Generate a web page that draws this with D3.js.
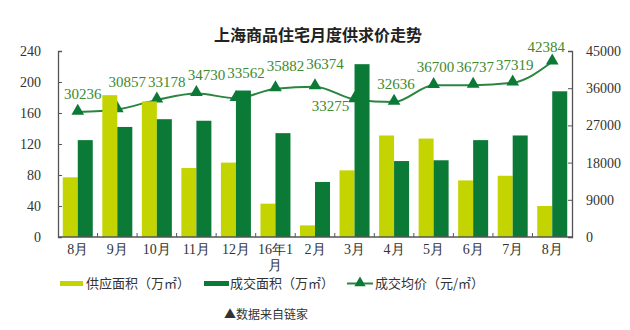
<!DOCTYPE html>
<html><head><meta charset="utf-8">
<script src="https://cdn.jsdelivr.net/npm/d3@7"></script>
<style>body{margin:0;background:#fff}svg{display:block}</style>
</head><body><svg id="c" width="630" height="330"></svg>
<script>
const categories = ["8月","9月","10月","11月","12月","16年1月","2月","3月","4月","5月","6月","7月","8月"];
const supply = [77,183,175,89,96,43,15,86,131,127,73,79,40];
const deal = [125,142,152,150,189,134,71,223,98,99,125,131,188];
const price = [30236,30857,33178,34730,33562,35882,36374,33275,32636,36700,36737,37319,42384];
const leftTicks = [0,40,80,120,160,200,240];
const rightTicks = [0,9000,18000,27000,36000,45000];
const title = "上海商品住宅月度供求价走势";
const legendNames = ["供应面积（万㎡）","成交面积（万㎡）","成交均价（元/㎡）"];
const source = "▲数据来自链家";

const C_LIGHT = "#c3d400", C_DARK = "#0b7a37", C_LINE = "#2a8540", C_TXT = "#3d8a2f";
const svg = d3.select("#c");
const L = 58, R = 572, T = 51, B = 237;
const cjk = "'Noto Sans CJK SC','Noto Sans',sans-serif";
const serif = "'Liberation Serif', 'DejaVu Serif', serif";

const x = d3.scaleBand().domain(d3.range(categories.length)).range([L, R]).paddingInner(0).paddingOuter(0);
const yL = d3.scaleLinear().domain([0,240]).range([B,T]);
const yR = d3.scaleLinear().domain([0,45000]).range([B,T]);
const bw = 15;

svg.append("text").attr("x",318).attr("y",41).attr("text-anchor","middle")
  .style("font-family",cjk).attr("font-weight","bold").attr("font-size",16).attr("fill","#222").text(title);

const line = d3.line().x((d,i)=>x(i)+x.bandwidth()/2).y(d=>yR(d)).curve(d3.curveMonotoneX);
svg.append("path").datum(price).attr("d",line).attr("fill","none").attr("stroke",C_LINE).attr("stroke-width",2);
const tri = d3.symbol().type(d3.symbolTriangle).size(70);
svg.selectAll(".tri").data(price).join("path")
  .attr("transform",(d,i)=>`translate(${x(i)+x.bandwidth()/2},${yR(d)-1})`)
  .attr("d",tri).attr("fill",C_DARK);

const g = svg.append("g");
g.selectAll(".s").data(supply).join("rect")
  .attr("x",(d,i)=>x(i)+x.bandwidth()/2-bw).attr("width",bw)
  .attr("y",d=>yL(d)).attr("height",d=>B-yL(d)).attr("fill",C_LIGHT);
g.selectAll(".d").data(deal).join("rect")
  .attr("x",(d,i)=>x(i)+x.bandwidth()/2).attr("width",bw)
  .attr("y",d=>yL(d)).attr("height",d=>B-yL(d)).attr("fill",C_DARK);

svg.selectAll(".pl").data(price).join("text")
  .style("font-family",serif)
  .attr("x",(d,i)=>{const cx=x(i)+x.bandwidth()/2; if(i===7) return cx-24; if(i===12) return cx-6; if(i>=8) return cx+2; return cx+ (i===0?5:10);})
  .attr("y",(d,i)=>{const cy=yR(d); if(i===7) return cy+12; if(i===12) return cy-10; return cy-13 - (i===1?9:(i===4?7:(i===5||i===6?5:0)));})
  .attr("text-anchor","middle").attr("font-size",15).attr("fill",C_TXT)
  .text(d=>d);

const axC = "#555";
const la = svg.append("g").attr("transform",`translate(${L},0)`)
  .call(d3.axisLeft(yL).tickValues(leftTicks).tickFormat(d3.format("d")).tickSize(-4).tickPadding(17));
const ra = svg.append("g").attr("transform",`translate(${R},0)`)
  .call(d3.axisRight(yR).tickValues(rightTicks).tickFormat(d3.format("d")).tickSize(-4).tickPadding(14));
[la,ra].forEach(a=>{
  a.attr("font-family",null);
  a.select(".domain").attr("stroke",axC).attr("stroke-width",1.3);
  a.selectAll(".tick line").attr("stroke",axC);
  a.selectAll("text").style("font-family",serif).attr("font-size",14).attr("fill","#333");
});
const xa = svg.append("g").attr("transform",`translate(0,${B})`);
xa.append("line").attr("x1",L).attr("x2",R).attr("stroke",axC).attr("stroke-width",1.3);
xa.selectAll(".xt").data(d3.range(1,categories.length)).join("line")
  .attr("x1",i=>x(i)).attr("x2",i=>x(i)).attr("y1",0).attr("y2",-4).attr("stroke",axC);
xa.selectAll(".xl").data(categories).join("text")
  .style("font-family",serif)
  .attr("x",(d,i)=>x(i)+x.bandwidth()/2).attr("y",17).attr("text-anchor","middle")
  .attr("font-size",14).attr("fill","#333")
  .each(function(d){
    const t=d3.select(this);
    if(d.length>4){ t.append("tspan").attr("x",t.attr("x")).text(d.slice(0,-1));
      t.append("tspan").attr("x",t.attr("x")).attr("dy",16).text(d.slice(-1)); }
    else t.text(d);
  });

const lg = svg.append("g").style("font-family",cjk).attr("font-size",13).attr("fill","#333");
lg.append("rect").attr("x",60).attr("y",281).attr("width",23).attr("height",5).attr("fill",C_LIGHT);
lg.append("text").attr("x",86).attr("y",288).text(legendNames[0]);
lg.append("rect").attr("x",204).attr("y",281).attr("width",25).attr("height",5).attr("fill",C_DARK);
lg.append("text").attr("x",230).attr("y",288).text(legendNames[1]);
lg.append("line").attr("x1",347).attr("x2",373).attr("y1",283.5).attr("y2",283.5).attr("stroke",C_LINE).attr("stroke-width",2);
lg.append("path").attr("d",d3.symbol().type(d3.symbolTriangle).size(55)).attr("transform","translate(360,283)").attr("fill",C_DARK);
lg.append("text").attr("x",375).attr("y",288).text(legendNames[2]);

svg.append("text").attr("x",266).attr("y",319).attr("text-anchor","middle")
  .style("font-family",cjk).attr("font-size",12).attr("fill","#333").text(source);
</script></body></html>
